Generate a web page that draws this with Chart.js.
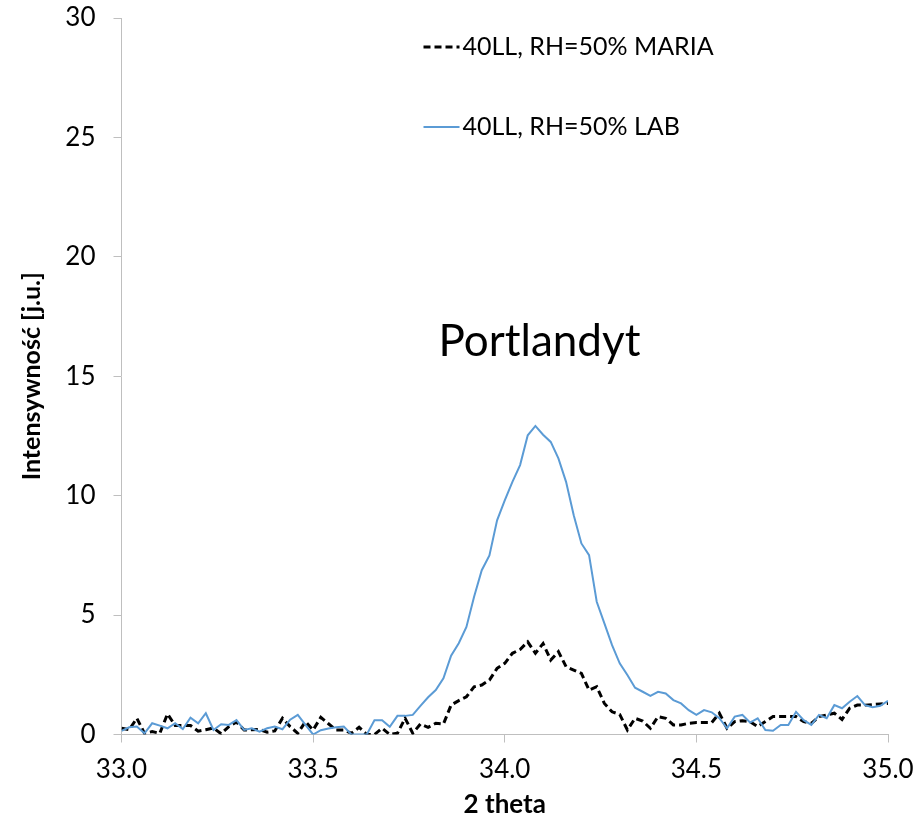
<!DOCTYPE html>
<html>
<head>
<meta charset="utf-8">
<script src="https://cdn.jsdelivr.net/npm/chart.js@4.4.1/dist/chart.umd.min.js"></script>
<style>
html,body{margin:0;padding:0;background:#fff;overflow:hidden}
#wrap{width:918px;height:824px;position:relative}
</style>
</head>
<body>
<div id="wrap"><canvas id="c" width="918" height="824"></canvas></div>
<script>
// ---- data ----
const twoTheta = [
33.00,33.02,33.04,33.06,33.08,33.10,33.12,33.14,33.16,33.18,
33.20,33.22,33.24,33.26,33.28,33.30,33.32,33.34,33.36,33.38,
33.40,33.42,33.44,33.46,33.48,33.50,33.52,33.54,33.56,33.58,
33.60,33.62,33.64,33.66,33.68,33.70,33.72,33.74,33.76,33.78,
33.80,33.82,33.84,33.86,33.88,33.90,33.92,33.94,33.96,33.98,
34.00,34.02,34.04,34.06,34.08,34.10,34.12,34.14,34.16,34.18,
34.20,34.22,34.24,34.26,34.28,34.30,34.32,34.34,34.36,34.38,
34.40,34.42,34.44,34.46,34.48,34.50,34.52,34.54,34.56,34.58,
34.60,34.62,34.64,34.66,34.68,34.70,34.72,34.74,34.76,34.78,
34.80,34.82,34.84,34.86,34.88,34.90,34.92,34.94,34.96,34.98,
35.00];

const mariaValues = [
0.26,0.20,0.68,0.05,0.12,0.05,0.86,0.38,0.38,0.38,
0.14,0.20,0.27,0.03,0.33,0.52,0.19,0.20,0.21,0.10,
0.15,0.68,0.33,0.05,0.54,0.19,0.72,0.45,0.19,0.19,
0.05,0.30,0.00,0.00,0.26,0.00,0.05,0.68,0.05,0.44,
0.30,0.47,0.44,1.23,1.42,1.58,2.00,2.07,2.28,2.77,
2.98,3.40,3.56,3.88,3.40,3.81,3.12,3.47,2.84,2.70,
2.56,1.86,2.00,1.30,0.95,0.84,0.19,0.68,0.56,0.26,
0.75,0.68,0.40,0.40,0.47,0.50,0.50,0.50,0.89,0.26,
0.54,0.58,0.54,0.33,0.54,0.75,0.75,0.75,0.75,0.54,
0.47,0.75,0.82,0.89,0.63,1.10,1.23,1.23,1.25,1.28,
1.30];

const labValues = [
0.15,0.30,0.33,0.05,0.47,0.37,0.26,0.47,0.23,0.70,
0.47,0.89,0.19,0.43,0.40,0.60,0.19,0.26,0.12,0.26,
0.33,0.22,0.62,0.82,0.40,0.00,0.18,0.25,0.30,0.33,
0.00,0.00,0.00,0.60,0.60,0.32,0.78,0.78,0.82,1.20,
1.56,1.86,2.35,3.30,3.82,4.50,5.77,6.88,7.50,8.97,
9.80,10.58,11.28,12.53,12.92,12.55,12.25,11.56,10.58,9.18,
8.00,7.51,5.56,4.65,3.74,2.98,2.49,1.96,1.79,1.62,
1.79,1.72,1.44,1.30,1.02,0.82,1.02,0.93,0.68,0.26,
0.75,0.82,0.50,0.68,0.19,0.16,0.40,0.40,0.95,0.60,
0.40,0.82,0.68,1.23,1.10,1.37,1.61,1.23,1.14,1.20,
1.41];

const xTickValues = [33.0, 33.5, 34.0, 34.5, 35.0];
const yTickValues = [0, 5, 10, 15, 20, 25, 30];
const seriesNames = ['40LL, RH=50% MARIA', '40LL, RH=50% LAB'];
const xAxisTitle = '2 theta';
const yAxisTitle = 'Intensywność [j.u.]';
const peakLabel = 'Portlandyt';

const FONT = 'Lato, "Open Sans", sans-serif';

function toPoints(xs, ys) { return xs.map((x, i) => ({x: x, y: ys[i]})); }

function clearScalePadding(s) {
  s.paddingTop = 0; s.paddingBottom = 0; s.paddingLeft = 0; s.paddingRight = 0;
}

const legendAndLabel = {
  id: 'legendAndLabel',
  afterDatasetsDraw(chart) {
    const ctx = chart.ctx;
    const ca = chart.chartArea;
    ctx.save();
    // peak annotation
    ctx.fillStyle = '#000';
    ctx.font = '44px ' + FONT;
    ctx.textAlign = 'center';
    ctx.textBaseline = 'middle';
    ctx.fillText(peakLabel, ca.left + 418, ca.top + 324);
    // legend
    const rows = [ca.top + 29, ca.top + 109];
    chart.data.datasets.forEach((ds, i) => {
      const y = rows[i];
      const x0 = ca.left + 302, x1 = ca.left + 338;
      ctx.beginPath();
      ctx.strokeStyle = ds.borderColor;
      ctx.lineWidth = ds.borderWidth;
      ctx.setLineDash(ds.borderDash || []);
      ctx.moveTo(x0, y);
      ctx.lineTo(x1, y);
      ctx.stroke();
      ctx.setLineDash([]);
      ctx.fillStyle = '#000';
      ctx.font = '25px ' + FONT;
      ctx.textAlign = 'left';
      ctx.textBaseline = 'middle';
      ctx.fillText(ds.label, x1 + 3, y);
    });
    ctx.restore();
  }
};

new Chart(document.getElementById('c'), {
  type: 'line',
  data: {
    datasets: [
      {
        label: seriesNames[0],
        data: toPoints(twoTheta, mariaValues),
        borderColor: '#000000',
        borderWidth: 3,
        borderDash: [7, 4],
        pointRadius: 0,
        tension: 0,
        fill: false,
        order: 1
      },
      {
        label: seriesNames[1],
        data: toPoints(twoTheta, labValues),
        borderColor: '#5B9BD5',
        borderWidth: 2,
        pointRadius: 0,
        tension: 0,
        fill: false,
        order: 0
      }
    ]
  },
  options: {
    responsive: false,
    animation: false,
    devicePixelRatio: 1,
    layout: { padding: { left: 0, right: 30, top: 18, bottom: 0 } },
    plugins: {
      legend: { display: false },
      tooltip: { enabled: false },
      title: { display: false }
    },
    scales: {
      x: {
        type: 'linear',
        min: 33,
        max: 35,
        afterBuildTicks: s => { s.ticks = xTickValues.map(v => ({ value: v })); },
        afterFit: s => { s.height = 89.5; clearScalePadding(s); },
        ticks: {
          autoSkip: false,
          maxRotation: 0,
          padding: 12,
          color: '#000',
          font: { family: FONT, size: 26 },
          callback: v => Number(v).toFixed(1)
        },
        grid: { drawOnChartArea: false, drawTicks: true, tickLength: 8, color: '#bfbfbf', lineWidth: 1 },
        border: { display: true, color: '#bfbfbf', width: 1 },
        title: {
          display: true,
          text: xAxisTitle,
          color: '#000',
          font: { family: FONT, size: 26, weight: 'bold' },
          padding: { top: 0, bottom: 4 }
        }
      },
      y: {
        type: 'linear',
        min: 0,
        max: 30,
        afterBuildTicks: s => { s.ticks = yTickValues.map(v => ({ value: v })); },
        afterFit: s => { s.width = 121.5; clearScalePadding(s); },
        ticks: {
          padding: 18,
          color: '#000',
          font: { family: FONT, size: 26 },
          callback: v => String(v)
        },
        grid: { drawOnChartArea: false, drawTicks: true, tickLength: 8, color: '#bfbfbf', lineWidth: 1 },
        border: { display: true, color: '#bfbfbf', width: 1 },
        title: {
          display: true,
          text: yAxisTitle,
          color: '#000',
          font: { family: FONT, size: 25, weight: 'bold' },
          padding: { top: 17, bottom: 0 }
        }
      }
    }
  },
  plugins: [legendAndLabel]
});
</script>
</body>
</html>
